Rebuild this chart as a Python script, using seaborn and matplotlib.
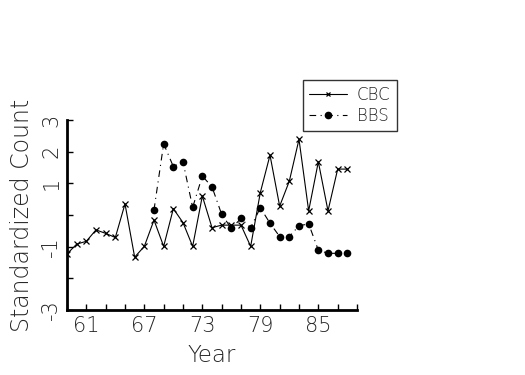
import numpy as np
import pandas as pd
import matplotlib
matplotlib.use("Agg")
import matplotlib.pyplot as plt
import seaborn as sns
from matplotlib.lines import Line2D
from matplotlib.legend_handler import HandlerLine2D
from matplotlib import font_manager

# ---- data ----
cbc_years = list(range(59, 89))
cbc_values = [-1.23, -0.92, -0.83, -0.47, -0.58, -0.71, 0.35, -1.33, -0.99, -0.16,
              -0.99, 0.20, -0.24, -0.99, 0.60, -0.40, -0.32, -0.32, -0.32, -0.99,
              0.71, 1.89, 0.28, 1.07, 2.39, 0.13, 1.68, 0.13, 1.45, 1.45]
bbs_years = list(range(68, 89))
bbs_values = [0.16, 2.25, 1.53, 1.68, 0.24, 1.23, 0.89, 0.02, -0.42, -0.11,
              -0.40, 0.23, -0.26, -0.68, -0.68, -0.34, -0.28, -1.11, -1.21, -1.21, -1.21]
series_names = ["CBC", "BBS"]
x_ticks = list(range(59, 90, 2))
x_labels = {61: "61", 67: "67", 73: "73", 79: "79", 85: "85"}
y_ticks = [-3, -2, -1, 0, 1, 2, 3]
y_labels = ["-3", "", "-1", "", "1", "2", "3"]

cbc = pd.DataFrame({"Year": cbc_years, "Value": cbc_values})
bbs = pd.DataFrame({"Year": bbs_years, "Value": bbs_values})

sns.set_style("ticks")

# pick a light-weight font if available
light_family = "DejaVu Sans"
light_weight = "normal"
for fam in ["DejaVu Sans", "Open Sans", "Roboto", "Lato", "Inter", "Noto Sans"]:
    for f in font_manager.fontManager.ttflist:
        if f.name == fam and (f.weight in (200, 250, 275, 300, "light", "extra-light", "ultralight")):
            light_family, light_weight = fam, f.weight
            break
    if light_weight != "normal":
        break
plt.rcParams["font.family"] = [light_family, "DejaVu Sans"]
plt.rcParams["font.weight"] = light_weight
plt.rcParams["axes.labelweight"] = light_weight

fig = plt.figure(figsize=(5.25, 3.75), dpi=100)
ax = fig.add_axes([0.1276, 0.1733, 0.5524, 0.5067])

sns.lineplot(data=cbc, x="Year", y="Value", ax=ax, color="black", lw=0.8,
             marker="x", markersize=4.5, markeredgewidth=0.9, markeredgecolor="black")
sns.lineplot(data=bbs, x="Year", y="Value", ax=ax, color="black", lw=0.8,
             marker="o", markersize=5.5, markeredgewidth=0, markerfacecolor="black",
             linestyle=(0, (6, 4, 1, 4)))

ax.set_xlim(59, 89)
ax.set_ylim(-3, 3)
ax.set_xticks(x_ticks)
ax.set_xticklabels([x_labels.get(t, "") for t in x_ticks])
ax.set_yticks(y_ticks)
ax.set_yticklabels(y_labels, rotation=90, va="center")
ax.tick_params(direction="in", length=4, width=1, labelsize=15, pad=4, color="black")
for s in ["top", "right"]:
    ax.spines[s].set_visible(False)
for s in ["left", "bottom"]:
    ax.spines[s].set_linewidth(2)
    ax.spines[s].set_color("black")

ax.set_xlabel("Year", fontsize=16.5, labelpad=6, fontweight=light_weight)
ax.set_ylabel("Standardized Count", fontsize=17, labelpad=5, fontweight=light_weight)


class LeftMarkerHandler(HandlerLine2D):
    def get_xdata(self, legend, xdescent, ydescent, width, height, fontsize):
        xdata, _ = super().get_xdata(legend, xdescent, ydescent, width, height, fontsize)
        return xdata, np.array([xdata[0]])


h_cbc = Line2D([], [], color="black", lw=0.8, marker="x", markersize=3.5, markeredgewidth=0.9)
h_bbs = Line2D([], [], color="black", lw=0.8, marker="o", markersize=4.5,
               linestyle=(0, (6, 4, 1, 4)))
leg = fig.legend([h_cbc, h_bbs], series_names, loc="upper left",
                 bbox_to_anchor=(0.577, 0.787), fontsize=12, frameon=True, fancybox=False,
                 edgecolor="black", handlelength=2.3, handletextpad=0.6,
                 borderpad=0.35, labelspacing=0.2, borderaxespad=0,
                 handler_map={Line2D: LeftMarkerHandler(numpoints=1)})
leg.get_frame().set_linewidth(1.0)

fig.savefig("out.png", dpi=100)
